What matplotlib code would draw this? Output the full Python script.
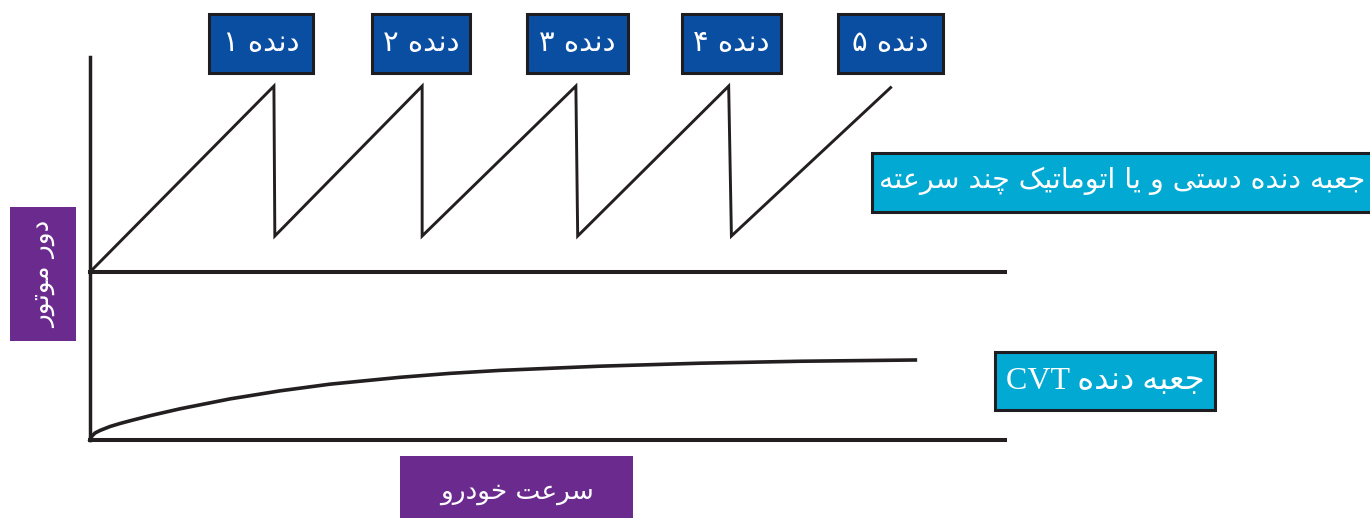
import re
import matplotlib
matplotlib.use("Agg")
import matplotlib.pyplot as plt
from matplotlib.patches import Rectangle

plt.rcParams['font.family'] = ['DejaVu Sans']

# sawtooth of a stepped gearbox (speed, engine rpm)
gear_speed = [0, 20.1, 20.2, 36.3, 36.3, 53.1, 53.3, 69.8, 70.1, 87.5]
gear_rpm = [0, 6200, 1200, 6200, 1200, 6200, 1200, 6200, 1200, 6150]

# CVT engine rpm vs speed
cvt_speed = [0, 0.22, 0.55, 1.09, 2.19, 3.28, 4.37, 6.56, 9.84, 15.3, 20.8,
             26.2, 33.9, 39.3, 44.8, 55.7, 66.7, 77.6, 90.2]
cvt_rpm = [0, 133, 233, 317, 450, 550, 640, 810, 1040, 1370, 1640,
           1860, 2090, 2220, 2320, 2460, 2560, 2625, 2667]

gear_labels = ["دنده ۱", "دنده ۲", "دنده ۳", "دنده ۴", "دنده ۵"]
manual_label = "جعبه دنده دستی و یا اتوماتیک چند سرعته"
cvt_label = "جعبه دنده CVT"
y_label = "دور موتور"
x_label = "سرعت خودرو"

# minimal arabic shaping: isolated, final, initial, medial
FORMS = {
    'ا': ('\uFE8D', '\uFE8E', None, None),
    'ب': ('\uFE8F', '\uFE90', '\uFE91', '\uFE92'),
    'ت': ('\uFE95', '\uFE96', '\uFE97', '\uFE98'),
    'ج': ('\uFE9D', '\uFE9E', '\uFE9F', '\uFEA0'),
    'خ': ('\uFEA5', '\uFEA6', '\uFEA7', '\uFEA8'),
    'د': ('\uFEA9', '\uFEAA', None, None),
    'ر': ('\uFEAD', '\uFEAE', None, None),
    'س': ('\uFEB1', '\uFEB2', '\uFEB3', '\uFEB4'),
    'ع': ('\uFEC9', '\uFECA', '\uFECB', '\uFECC'),
    'م': ('\uFEE1', '\uFEE2', '\uFEE3', '\uFEE4'),
    'ن': ('\uFEE5', '\uFEE6', '\uFEE7', '\uFEE8'),
    'ه': ('\uFEE9', '\uFEEA', '\uFEEB', '\uFEEC'),
    'و': ('\uFEED', '\uFEEE', None, None),
    'ی': ('\uFBFC', '\uFBFD', '\uFBFE', '\uFBFF'),
    'ک': ('\uFB8E', '\uFB8F', '\uFB90', '\uFB91'),
    'چ': ('\uFB7A', '\uFB7B', '\uFB7C', '\uFB7D'),
}


def rtl(text):
    out = []
    for i, c in enumerate(text):
        if c not in FORMS:
            out.append(c)
            continue
        prev = text[i - 1] if i > 0 else None
        nxt = text[i + 1] if i + 1 < len(text) else None
        jp = prev in FORMS and FORMS[prev][2] is not None
        jn = nxt in FORMS and FORMS[c][2] is not None
        iso, fin, ini, med = FORMS[c]
        if jp and jn:
            out.append(med)
        elif jp:
            out.append(fin)
        elif jn:
            out.append(ini)
        else:
            out.append(iso)
    vis = ''.join(out)[::-1]
    return re.sub(r'[A-Za-z0-9]+', lambda m: m.group(0)[::-1], vis)


W, H = 1370, 518
fig = plt.figure(figsize=(W / 100, H / 100), dpi=100)
line_col = '#231F20'


def make_axes(top_px, bottom_px):
    ax = fig.add_axes([90 / W, 1 - bottom_px / H, 915 / W, (bottom_px - top_px) / H])
    for s in ['top', 'right']:
        ax.spines[s].set_visible(False)
    ax.spines['left'].set_linewidth(2.5)
    ax.spines['bottom'].set_linewidth(2.9)
    ax.spines['left'].set_color(line_col)
    ax.spines['bottom'].set_color(line_col)
    ax.set_xticks([])
    ax.set_yticks([])
    ax.patch.set_alpha(0)
    ax.set_xlim(0, 100)
    return ax


ax1 = make_axes(57, 272)
ax1.set_ylim(0, 7170)
ax1.plot(gear_speed, gear_rpm, color=line_col, lw=2.1, clip_on=False, solid_joinstyle='miter')

ax2 = make_axes(272, 440)
ax2.set_ylim(0, 5600)
ax2.plot(cvt_speed, cvt_rpm, color=line_col, lw=2.6, clip_on=False)

# layout layer in pixel coordinates for the label boxes
lay = fig.add_axes([0, 0, 1, 1])
lay.set_xlim(0, W)
lay.set_ylim(H, 0)
lay.axis('off')
lay.patch.set_alpha(0)


def box(x0, x1, y0, y1, color, text, size, edge=True, rot=0, ty=None, tx=None, family=None):
    lay.add_patch(Rectangle((x0, y0), x1 - x0, y1 - y0, facecolor=color,
                            edgecolor='#1E1E22' if edge else 'none', lw=2.2 if edge else 0))
    lay.text(tx if tx is not None else (x0 + x1) / 2,
             ty if ty is not None else (y0 + y1) / 2, text, color='white',
             fontsize=size, ha='center', va='center', rotation=rot,
             family=family or ['DejaVu Sans'])


blue = '#0A4EA2'
cyan = '#02A9D3'
purple = '#6B2B8E'

gear_x = [(209, 313), (372, 470), (527, 628), (682, 781), (838, 943)]
for (a, b), lab in zip(gear_x, gear_labels):
    box(a, b, 14, 73, blue, rtl(lab), 21)

box(872, 1380, 153, 212, cyan, rtl(manual_label), 20.5, ty=181, tx=1122)
box(995, 1215, 352, 410, cyan, rtl(cvt_label), 23,
    family=['Liberation Serif', 'DejaVu Sans'])
box(10, 76, 207, 341, purple, rtl(y_label), 19, edge=False, rot=90)
box(400, 633, 456, 530, purple, rtl(x_label), 19, edge=False, ty=492, tx=517)

fig.savefig('out.png', dpi=100)
